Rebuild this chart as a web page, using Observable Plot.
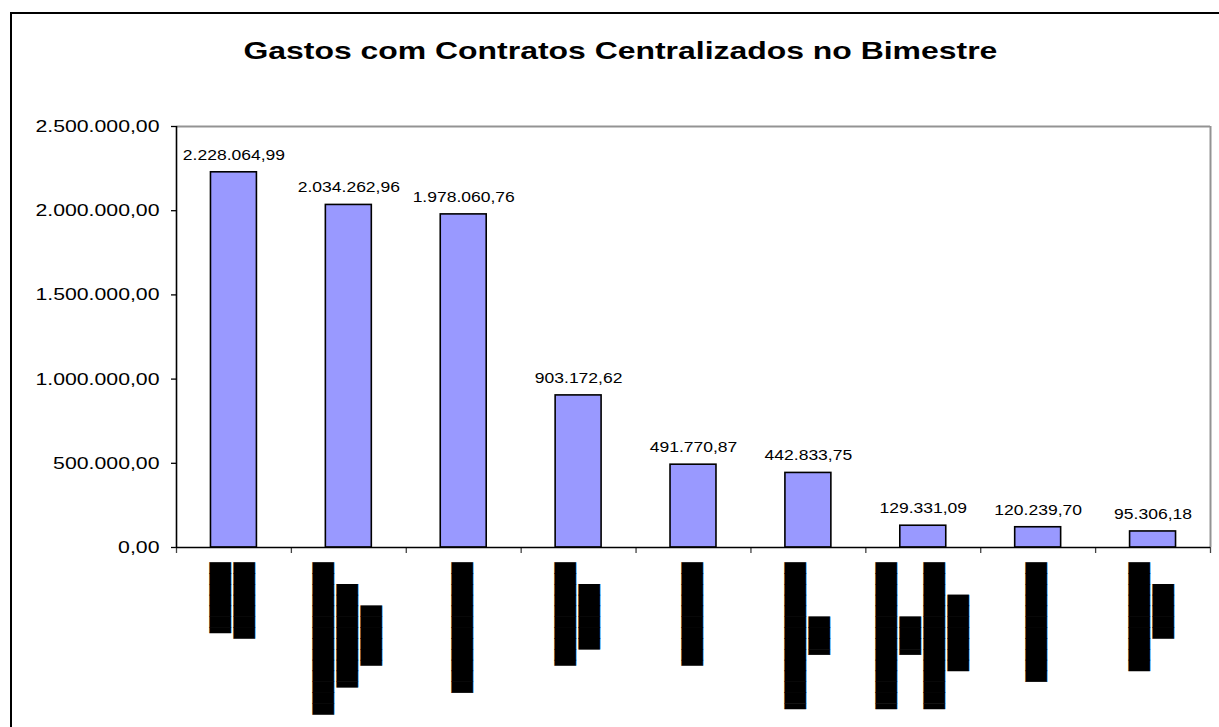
<!DOCTYPE html>
<html><head><meta charset="utf-8">
<script src="https://cdn.jsdelivr.net/npm/d3@7"></script>
<script src="https://cdn.jsdelivr.net/npm/@observablehq/plot@0.6"></script>
<style>
body{margin:0;background:#fff;font-family:"Liberation Sans",Arial,sans-serif;}
#wrap{position:relative;width:1219px;height:727px;overflow:hidden;background:#fff;}
#frame{position:absolute;z-index:2;left:10px;top:12px;width:1300px;height:900px;border:2px solid #000;box-sizing:border-box;background:transparent;pointer-events:none;}
#title{position:absolute;left:0;top:0;width:1240px;height:90px;padding-top:39px;box-sizing:border-box;text-align:center;font-weight:bold;font-size:24px;line-height:24px;color:#000;}
#title span{display:inline-block;transform:scaleX(1.33);}
#chart{position:absolute;left:0;top:90px;}
</style></head><body>
<div id="wrap"><div id="title"><span>Gastos com Contratos Centralizados no Bimestre</span></div><div id="chart"></div><div id="frame"></div></div>
<script>
// Bar values (R$), in display order
const values = [2228064.99, 2034262.96, 1978060.76, 903172.62, 491770.87, 442833.75, 129331.09, 120239.70, 95306.18];
// Category labels are redacted (blacked out) in the reference; lines listed right column first
const redactedLabels = [
  "███████\n██████▌",
  "█████▌\n█████████▌\n██████████████",
  "████████████",
  "██████\n█████████▌",
  "█████████▌",
  "███▌\n█████████████▌",
  "███████\n█████████████▌\n███▌\n█████████████▌",
  "███████████",
  "█████\n██████████"
];
const yTicks = [0, 500000, 1000000, 1500000, 2000000, 2500000];

const fmt = new Intl.NumberFormat("pt-BR", {minimumFractionDigits: 2, maximumFractionDigits: 2});
const glyphLen = s => [...s].reduce((a, c) => a + (c === "▌" ? 0.5 : 1), 0);
const centerLines = label => {
  const lines = label.split("\n");
  const m = Math.max(...lines.map(glyphLen));
  return lines.map(l => "\u00A0".repeat(Math.floor((m - glyphLen(l)) / 2 + 0.3)) + l).join("\n");
};
const data = values.map((v, i) => ({i, value: v, label: centerLines(redactedLabels[i])}));

const svg = Plot.plot({
  width: 1219,
  height: 637,
  marginTop: 36,
  marginBottom: 180,
  marginLeft: 176,
  marginRight: 9,
  style: {fontFamily: "'Liberation Sans', Arial, sans-serif", color: "#000", background: "transparent"},
  x: {domain: [0, values.length], axis: null},
  y: {domain: [0, 2500000], axis: null},
  marks: [
    Plot.ruleY([2500000], {stroke: "#939393", strokeWidth: 2}),
    Plot.ruleX([values.length], {stroke: "#939393", strokeWidth: 2}),
    Plot.rectY(data, {x1: d => d.i + 0.3, x2: d => d.i + 0.7, y1: 0, y2: "value", fill: "#9999FF", stroke: "#000", strokeWidth: 1.6}),
    Plot.axisY({ticks: yTicks, tickFormat: d => fmt.format(d), label: null, tickSize: 5, tickPadding: 12, fontSize: 17, stroke: "#000", strokeWidth: 1.3, strokeOpacity: 1}),
    Plot.axisX({ticks: d3.range(values.length + 1), tickFormat: () => "", label: null, tickSize: 6, stroke: "#444", strokeWidth: 1.3, strokeOpacity: 1}),
    Plot.ruleX([0], {stroke: "#000", strokeWidth: 1.6}),
    Plot.ruleY([0], {stroke: "#000", strokeWidth: 1.6}),
    Plot.text(data, {x: d => d.i + 0.5, y: "value", text: d => fmt.format(d.value), dy: -17, fontSize: 14, fill: "#000"}),
    Plot.text(data, {x: d => d.i + 0.5, frameAnchor: "bottom", text: "label", rotate: 90, textAnchor: "start", lineAnchor: "middle", dy: 15, fontFamily: "DejaVu Sans Mono", fontSize: 18, lineHeight: 24 / 18, fill: "#000", stroke: "#000", strokeWidth: 0.4})
  ]
});
document.getElementById("chart").append(svg);
// Reference text is horizontally stretched; widen each text run accordingly
svg.querySelectorAll("text").forEach(t => {
  if (t.textContent.includes("█") || t.textContent.includes("▌")) return;
  const L = t.getComputedTextLength();
  if (L > 0) {
    t.setAttribute("textLength", (L * 1.25).toFixed(1));
    t.setAttribute("lengthAdjust", "spacingAndGlyphs");
  }
});
</script>
</body></html>
